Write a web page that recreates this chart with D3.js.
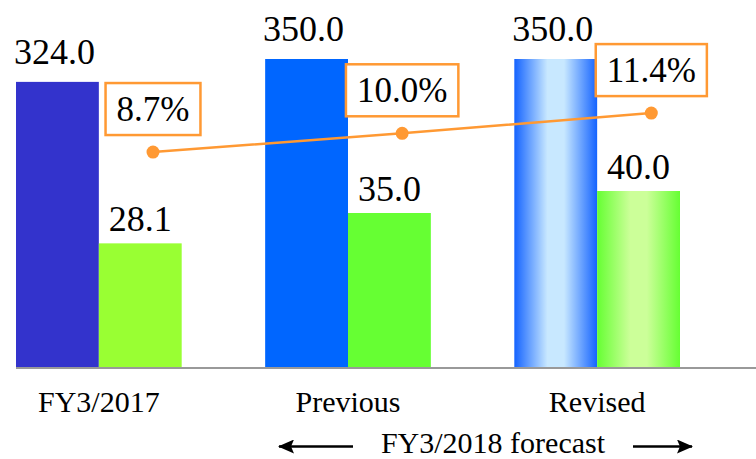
<!DOCTYPE html>
<html lang="en">
<head>
<meta charset="UTF-8">
<title>FY3/2018 forecast</title>
<style>
    body { margin: 0; padding: 0; background: #fff; }
    svg { display: block; font-family: "Liberation Serif", "Times New Roman", serif; }
</style>
</head>
<body>
<script src="https://d3js.org/d3.v7.min.js"></script>
<script>
    // data
    const categories = ['FY3/2017', 'Previous', 'Revised'];
    const sales = [324.0, 350.0, 350.0];
    const profit = [28.1, 35.0, 40.0];
    const margin = [8.7, 10.0, 11.4];

    const width = 756, height = 459;
    const baseY = 367;

    const svg = d3.select('body').append('svg')
        .attr('width', width)
        .attr('height', height);

    // gradients for the revised bars
    const defs = svg.append('defs');
    function addGrad(id, edge, mid) {
        const g = defs.append('linearGradient').attr('id', id)
            .attr('x1', '0%').attr('x2', '100%').attr('y1', '0%').attr('y2', '0%');
        g.append('stop').attr('offset', '0%').attr('stop-color', edge);
        g.append('stop').attr('offset', '40%').attr('stop-color', mid);
        g.append('stop').attr('offset', '60%').attr('stop-color', mid);
        g.append('stop').attr('offset', '100%').attr('stop-color', edge);
    }
    addGrad('gBlue', '#1463ff', '#c8e8ff');
    addGrad('gGreen', '#66ff33', '#ccff99');

    const blueFill = ['#3333cc', '#0066ff', 'url(#gBlue)'];
    const greenFill = ['#99ff33', '#66ff33', 'url(#gGreen)'];

    // scales
    const x = d3.scaleBand().domain(categories).range([16, 680]).paddingInner(0.335).paddingOuter(0);
    const xSub = d3.scaleBand().domain(['sales', 'profit']).range([0, x.bandwidth()]);
    const ySales = d3.scaleLinear().domain([0, 350]).range([baseY, 59]);
    const yProfit = d3.scaleLinear().domain([0, 70]).range([baseY, 59]);
    const yPct = d3.scaleLinear().domain([-6.2, 15.15]).range([baseY, 59]);

    const rows = categories.map((c, i) => ({ c, i, s: sales[i], p: profit[i], m: margin[i] }));

    // sales bars
    svg.append('g').selectAll('rect')
        .data(rows)
        .join('rect')
        .attr('x', d => x(d.c) + xSub('sales'))
        .attr('y', d => ySales(d.s))
        .attr('width', xSub.bandwidth())
        .attr('height', d => baseY - ySales(d.s))
        .attr('fill', d => blueFill[d.i]);

    // profit bars
    svg.append('g').selectAll('rect')
        .data(rows)
        .join('rect')
        .attr('x', d => x(d.c) + xSub('profit'))
        .attr('y', d => yProfit(d.p))
        .attr('width', xSub.bandwidth())
        .attr('height', d => baseY - yProfit(d.p))
        .attr('fill', d => greenFill[d.i]);

    // axis line
    svg.append('line')
        .attr('x1', 16).attr('x2', width)
        .attr('y1', baseY + 1).attr('y2', baseY + 1)
        .attr('stroke', '#999').attr('stroke-width', 2);

    // value labels
    svg.append('g').selectAll('text')
        .data(rows)
        .join('text')
        .attr('x', d => x(d.c) + xSub('sales') + xSub.bandwidth() / 2 - 3)
        .attr('y', d => ySales(d.s) - 18)
        .attr('text-anchor', 'middle')
        .attr('font-size', 36)
        .text(d => d.s.toFixed(1));

    svg.append('g').selectAll('text')
        .data(rows)
        .join('text')
        .attr('x', d => x(d.c) + xSub('profit') + xSub.bandwidth() / 2)
        .attr('y', d => yProfit(d.p) - 12)
        .attr('text-anchor', 'middle')
        .attr('font-size', 36)
        .text(d => d.p.toFixed(1));

    // margin line
    const lx = d => x(d.c) + 137;
    svg.append('path')
        .datum(rows)
        .attr('fill', 'none')
        .attr('stroke', '#ff9933')
        .attr('stroke-width', 2.5)
        .attr('d', d3.line().x(lx).y(d => yPct(d.m)));

    svg.append('g').selectAll('circle')
        .data(rows)
        .join('circle')
        .attr('cx', lx)
        .attr('cy', d => yPct(d.m))
        .attr('r', 6.5)
        .attr('fill', '#ff9933');

    // boxed margin labels
    const boxes = svg.append('g').selectAll('g')
        .data(rows)
        .join('g');
    boxes.append('text')
        .attr('x', d => lx(d))
        .attr('y', d => yPct(d.m) - 17 - 14)
        .attr('text-anchor', 'middle')
        .attr('font-size', 35)
        .text(d => d.m.toFixed(1) + '%');
    boxes.insert('rect', 'text')
        .each(function (d) {
            const bb = this.parentNode.querySelector('text').getBBox();
            d3.select(this)
                .attr('x', bb.x - 11)
                .attr('y', yPct(d.m) - 17 - 52)
                .attr('width', bb.width + 22)
                .attr('height', 52);
        })
        .attr('fill', '#fff')
        .attr('stroke', '#ff9933')
        .attr('stroke-width', 2.5);

    // category labels
    svg.append('g').selectAll('text')
        .data(categories)
        .join('text')
        .attr('x', d => x(d) + x.bandwidth() / 2)
        .attr('y', 412)
        .attr('text-anchor', 'middle')
        .attr('font-size', 30)
        .text(d => d);

    // forecast span label with arrows
    svg.append('text')
        .attr('x', 493)
        .attr('y', 453)
        .attr('text-anchor', 'middle')
        .attr('font-size', 30)
        .text('FY3/2018 forecast');

    defs.append('marker')
        .attr('id', 'arrow')
        .attr('viewBox', '0 0 16 14')
        .attr('refX', 15).attr('refY', 7)
        .attr('markerWidth', 16).attr('markerHeight', 14)
        .attr('markerUnits', 'userSpaceOnUse')
        .attr('orient', 'auto')
        .append('path')
        .attr('d', 'M0,0 L16,7 L0,14 L3,7 z')
        .attr('fill', '#000');

    svg.append('line')
        .attr('x1', 353).attr('x2', 279)
        .attr('y1', 446.5).attr('y2', 446.5)
        .attr('stroke', '#000').attr('stroke-width', 2.5)
        .attr('marker-end', 'url(#arrow)');
    svg.append('line')
        .attr('x1', 633).attr('x2', 692)
        .attr('y1', 446.5).attr('y2', 446.5)
        .attr('stroke', '#000').attr('stroke-width', 2.5)
        .attr('marker-end', 'url(#arrow)');
</script>
</body>
</html>
